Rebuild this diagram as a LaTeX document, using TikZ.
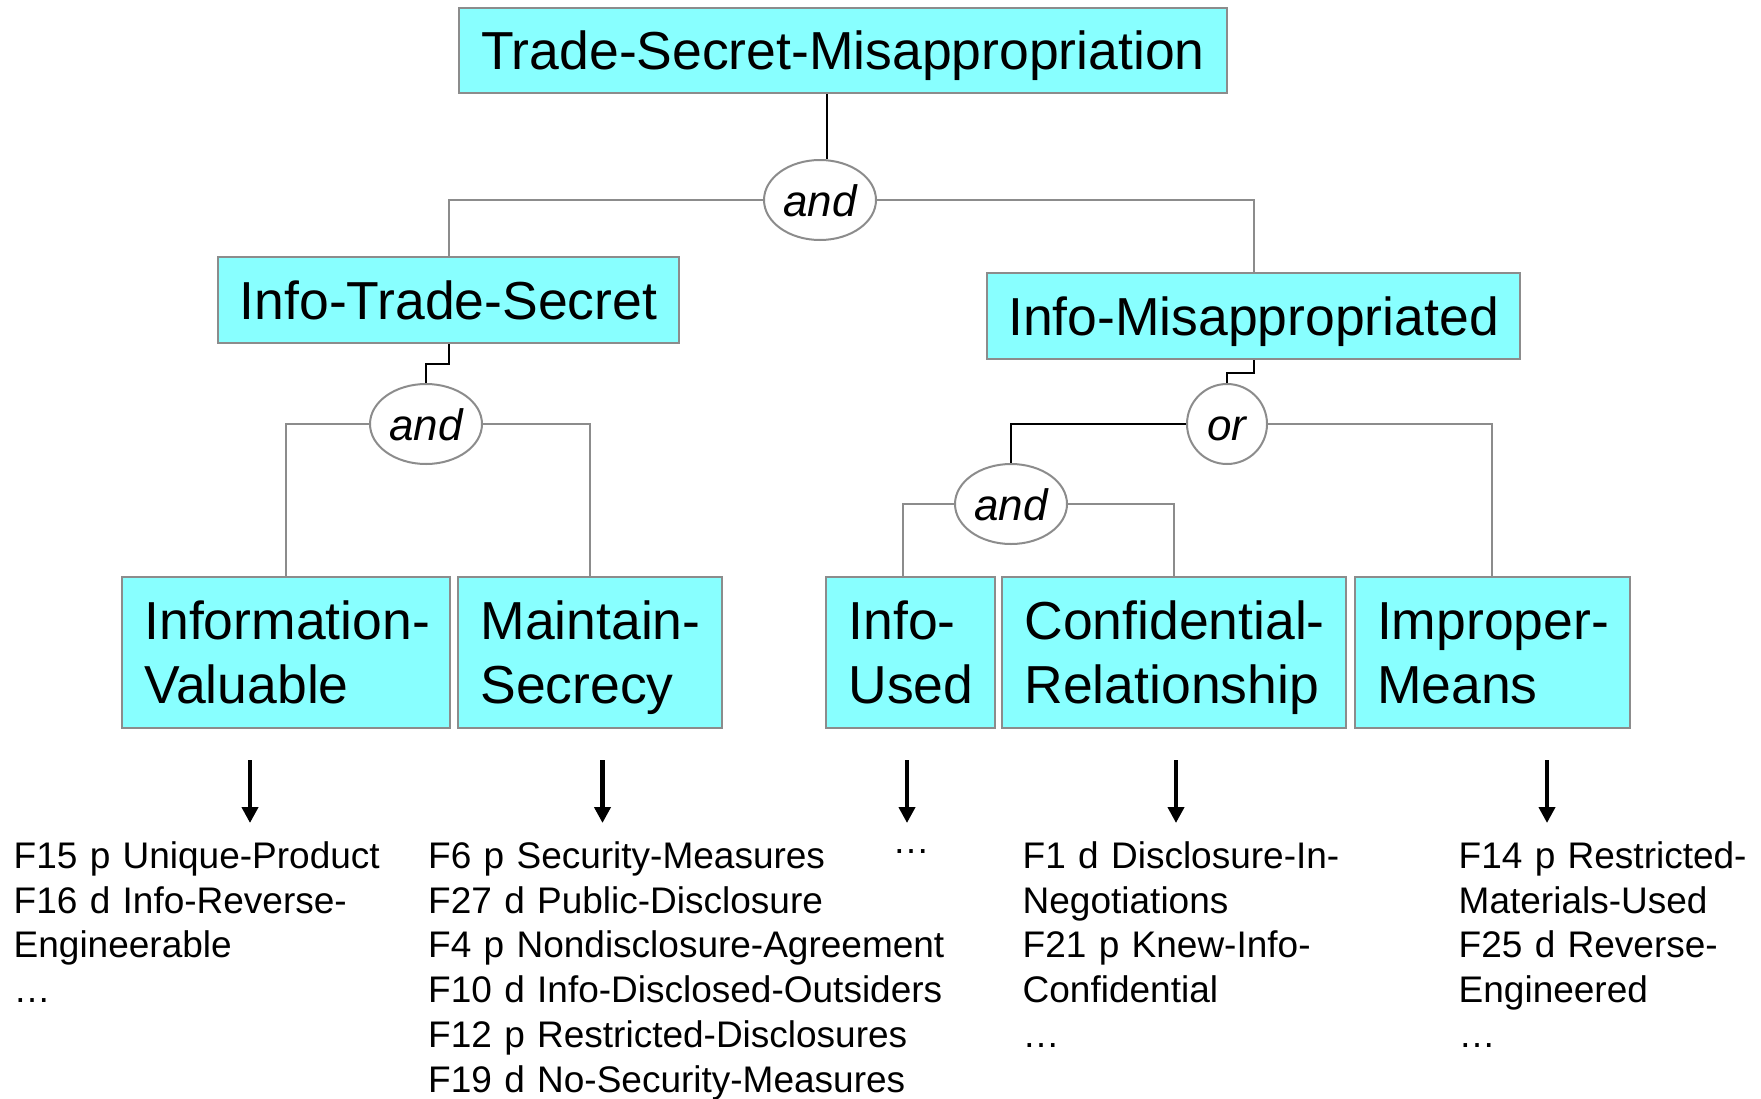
\documentclass[tikz,border=0pt]{standalone}
\usepackage{fontspec}
\setmainfont{Liberation Sans}
\usetikzlibrary{shapes.geometric,arrows.meta}
\definecolor{boxcyan}{HTML}{88FFFF}
\definecolor{boxgrey}{HTML}{8C8C8C}
\definecolor{linegrey}{HTML}{8C8C8C}
\hyphenpenalty=10000
\exhyphenpenalty=10000
\hbadness=10000
\hfuzz=20pt
\begin{document}
\begin{tikzpicture}[x=1pt,y=-1pt,
  conn/.style={draw=linegrey,line width=2pt},
  blk/.style={draw=black,line width=2pt},
  box/.style={rectangle,draw=boxgrey,line width=2pt,fill=boxcyan,inner sep=0pt},
  titlebox/.style={box,font=\fontsize{53.5}{64}\selectfont,text height=38.3pt,text depth=0pt},
  leafbox/.style={box,font=\fontsize{53.5}{64}\selectfont,inner xsep=22.5pt,inner ysep=0pt,align=left,text height=38.3pt,text depth=64pt,minimum height=151pt},
  gate/.style={ellipse,draw=boxgrey,line width=2pt,fill=white,inner sep=0pt,minimum height=80pt,font=\fontsize{44}{50}\selectfont\itshape,text height=32pt,text depth=0pt},
  factors/.style={anchor=base west,inner sep=0pt,text width=600pt,align=left,font=\fontsize{37}{44.7}\selectfont},
  downarrow/.style={draw=black,line width=4.5pt,-{Triangle[width=16pt,length=16pt]}}
]
\useasboundingbox (0,0) rectangle (1761,1098);

% title boxes
\node[titlebox,minimum width=768pt,minimum height=85pt] (top) at (843,50.5) {Trade-Secret-Misappropriation};
\node[titlebox,minimum width=461pt,minimum height=86pt] (its) at (448.5,300) {Info-Trade-Secret};
\node[titlebox,minimum width=533pt,minimum height=86pt] (imis) at (1253.5,316) {Info-Misappropriated};

% gates
\node[gate,minimum width=112pt] (a1) at (820,200) {and};
\node[gate,minimum width=112pt] (a2) at (426,424) {and};
\node[gate,minimum width=80pt] (or) at (1227,424) {or};
\node[gate,minimum width=112pt] (a3) at (1011,504) {and};

% leaf boxes
\node[leafbox,text width=283pt] (iv) at (286,652) {Information-\\Valuable};
\node[leafbox,text width=219pt] (ms) at (590,652) {Maintain-\\Secrecy};
\node[leafbox,text width=124pt] (iu) at (910.5,652) {Info-\\Used};
\node[leafbox,text width=299pt] (cr) at (1174,652) {Confidential-\\Relationship};
\node[leafbox,text width=230pt] (im) at (1492,652) {Improper-\\Means};

% connectors
\draw[blk] ([xshift=-16pt]top.south) -- ([xshift=7pt]a1.north);
\draw[conn] (a1.west) -| (its.north);
\draw[conn] (a1.east) -| (imis.north);
\draw[blk] (its.south) -- ++(0,20) -| (a2.north);
\draw[blk] (imis.south) -- ++(0,13) -| (or.north);
\draw[conn] (a2.west) -| (iv.north);
\draw[conn] (a2.east) -| (ms.north);
\draw[blk] (or.west) -| (a3.north);
\draw[conn] (or.east) -| (im.north);
\draw[conn] (a3.west) -| ([xshift=-7.5pt]iu.north);
\draw[conn] (a3.east) -| (cr.north);

% arrows
\coordinate (p1) at (250,760);   \coordinate (q1) at (250,823);
\coordinate (p2) at (602.5,760); \coordinate (q2) at (602.5,823);
\coordinate (p3) at (907,760);   \coordinate (q3) at (907,823);
\coordinate (p4) at (1176,760);  \coordinate (q4) at (1176,823);
\coordinate (p5) at (1547,760);  \coordinate (q5) at (1547,823);
\draw[downarrow] (p1) -- (q1);
\draw[downarrow] (p2) -- (q2);
\draw[downarrow] (p3) -- (q3);
\draw[downarrow] (p4) -- (q4);
\draw[downarrow] (p5) -- (q5);

% factor lists
\node[factors] (l1) at (13.5,868.5) {F15 p Unique-Product\\F16 d Info-Reverse-\\Engineerable\\…};
\node[factors] (l2) at (428,868.5) {F6 p Security-Measures\\F27 d Public-Disclosure\\F4 p Nondisclosure-Agreement\\F10 d Info-Disclosed-Outsiders\\F12 p Restricted-Disclosures\\F19 d No-Security-Measures};
\node[factors] (l3) at (892.5,853) {…};
\node[factors] (l4) at (1022.5,868.5) {F1 d Disclosure-In-\\Negotiations\\F21 p Knew-Info-\\Confidential\\…};
\node[factors] (l5) at (1458.5,868.5) {F14 p Restricted-\\Materials-Used\\F25 d Reverse-\\Engineered\\…};
\end{tikzpicture}
\end{document}
